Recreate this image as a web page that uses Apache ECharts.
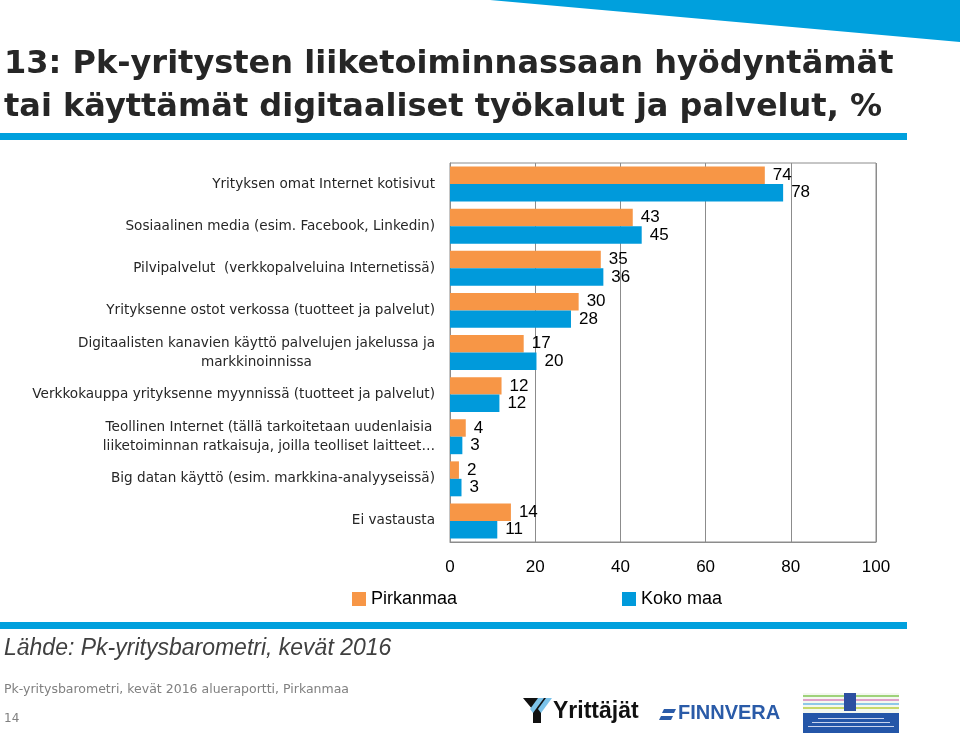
<!DOCTYPE html>
<html><head><meta charset="utf-8">
<script src="https://cdn.jsdelivr.net/npm/echarts@6/dist/echarts.min.js"></script>
<style>html,body{margin:0;padding:0;background:#fff}#c{width:960px;height:738px}</style>
</head><body><div id="c"></div>
<script>
const categories = [
  'Yrityksen omat Internet kotisivut',
  'Sosiaalinen media (esim. Facebook, Linkedin)',
  'Pilvipalvelut  (verkkopalveluina Internetissä)',
  'Yrityksenne ostot verkossa (tuotteet ja palvelut)',
  'Digitaalisten kanavien käyttö palvelujen jakelussa ja\nmarkkinoinnissa',
  'Verkkokauppa yrityksenne myynnissä (tuotteet ja palvelut)',
  'Teollinen Internet (tällä tarkoitetaan uudenlaisia\nliiketoiminnan ratkaisuja, joilla teolliset laitteet…',
  'Big datan käyttö (esim. markkina-analyyseissä)',
  'Ei vastausta'
];
const pirkanmaa = [73.9, 42.9, 35.4, 30.2, 17.3, 12.1, 3.7, 2.1, 14.3];
const kokoMaa   = [78.2, 45.0, 36.0, 28.4, 20.3, 11.6, 2.9, 2.7, 11.1];
const xTicks = [0, 20, 40, 60, 80, 100];
const seriesNames = ['Pirkanmaa', 'Koko maa'];

const ORANGE = '#F79646', BLUE = '#009ADB', HEAD = '#00A0DD';
const FONT = '"Liberation Sans", Arial, sans-serif';
const WIDE = '"DejaVu Sans", sans-serif';

const chart = echarts.init(document.getElementById('c'));
const lbl = {show: true, position: 'right', distance: 8, fontSize: 17, color: '#000', fontFamily: FONT,
  formatter: p => Math.round(p.value)};
const legendText = {fontSize: 18, color: '#000', fontFamily: FONT};
chart.setOption({
  animation: false,
  backgroundColor: '#fff',
  grid: {left: 450, right: 84, top: 163, bottom: 196, show: true, borderColor: '#8c8c8c', borderWidth: 1},
  legend: [
    {data: [seriesNames[0]], left: 352, top: 590, padding: 0, icon: 'rect', itemWidth: 14, itemHeight: 14, itemGap: 5, textStyle: legendText},
    {data: [seriesNames[1]], left: 622, top: 590, padding: 0, icon: 'rect', itemWidth: 14, itemHeight: 14, itemGap: 5, textStyle: legendText}
  ],
  xAxis: {
    type: 'value', min: xTicks[0], max: xTicks[xTicks.length - 1], interval: 20,
    axisLine: {show: true, lineStyle: {color: '#8c8c8c'}},
    axisTick: {show: false},
    splitLine: {show: true, lineStyle: {color: '#8c8c8c', width: 1}},
    axisLabel: {fontSize: 17, color: '#000', margin: 17, fontFamily: FONT}
  },
  yAxis: {
    type: 'category', data: categories, inverse: true,
    axisLine: {show: true, lineStyle: {color: '#8c8c8c'}},
    axisTick: {show: false},
    axisLabel: {
      margin: 15, fontSize: 13.6, color: '#262626', fontFamily: WIDE, lineHeight: 19,
      formatter: v => v.indexOf('\n') >= 0 ? v.split('\n').map(s => '{c|' + s + '}').join('\n') : v,
      rich: {c: {align: 'center', fontSize: 13.6, color: '#262626', fontFamily: WIDE, lineHeight: 19}}
    }
  },
  series: [
    {name: seriesNames[0], type: 'bar', data: pirkanmaa, itemStyle: {color: ORANGE},
     barGap: '0%', barCategoryGap: '17%', label: lbl},
    {name: seriesNames[1], type: 'bar', data: kokoMaa, itemStyle: {color: BLUE},
     barGap: '0%', barCategoryGap: '17%', label: lbl}
  ],
  title: {
    text: '13: Pk-yritysten liiketoiminnassaan hyödyntämät\ntai käyttämät digitaaliset työkalut ja palvelut, %',
    left: 4, top: 43, padding: 0,
    textStyle: {fontSize: 32, fontWeight: 'bold', color: '#262626', fontFamily: WIDE, lineHeight: 43}
  },
  graphic: [
    {type: 'polygon', shape: {points: [[490, 0], [960, 0], [960, 42]]}, style: {fill: HEAD}},
    {type: 'rect', shape: {x: 0, y: 133, width: 907, height: 7}, style: {fill: HEAD}},
    {type: 'rect', shape: {x: 0, y: 622, width: 907, height: 7}, style: {fill: HEAD}},
    {type: 'text', left: 4, top: 637, style: {text: 'Lähde: Pk-yritysbarometri, kevät 2016', fontSize: 23,
      fontStyle: 'italic', fill: '#404040', fontFamily: FONT}},
    {type: 'text', left: 4, top: 683, style: {text: 'Pk-yritysbarometri, kevät 2016 alueraportti, Pirkanmaa',
      fontSize: 12.5, fill: '#808080', fontFamily: WIDE}},
    {type: 'text', left: 4, top: 713, style: {text: '14', fontSize: 12, fill: '#808080', fontFamily: WIDE}},
    // Yrittäjät logo (approx)
    {type: 'polygon', shape: {points: [[523, 698], [550, 698], [541, 710], [541, 723], [533, 723], [533, 710]]}, style: {fill: '#111'}},
    {type: 'polygon', shape: {points: [[538, 698], [544, 698], [533, 713], [530, 709]]}, style: {fill: '#7cc3ea'}},
    {type: 'polygon', shape: {points: [[546, 698], [552, 698], [541, 713], [538, 709]]}, style: {fill: '#7cc3ea'}},
    {type: 'text', left: 553, top: 700, style: {text: 'Yrittäjät', fontSize: 23, fontWeight: 'bold', fill: '#111', fontFamily: FONT}},
    // Finnvera logo (approx)
    {type: 'polygon', shape: {points: [[664, 709], [676, 709], [674, 713], [662, 713]]}, style: {fill: '#2a5ba8'}},
    {type: 'polygon', shape: {points: [[661, 716], [673, 716], [671, 720], [659, 720]]}, style: {fill: '#2a5ba8'}},
    {type: 'text', left: 678, top: 703, style: {text: 'FINNVERA', fontSize: 20, fontWeight: 'bold', fill: '#2a5ba8', fontFamily: FONT}},
    // Ministry logo (approx)
    {type: 'rect', shape: {x: 803, y: 693, width: 96, height: 20}, style: {fill: '#f4f8f0'}},
    {type: 'rect', shape: {x: 803, y: 695, width: 96, height: 2}, style: {fill: '#9fd27a'}},
    {type: 'rect', shape: {x: 803, y: 699, width: 96, height: 2}, style: {fill: '#e0a0c8'}},
    {type: 'rect', shape: {x: 803, y: 703, width: 96, height: 2}, style: {fill: '#8fc8e8'}},
    {type: 'rect', shape: {x: 803, y: 707, width: 96, height: 2}, style: {fill: '#c8d86a'}},
    {type: 'rect', shape: {x: 844, y: 693, width: 12, height: 18}, style: {fill: '#2c4fa0'}},
    {type: 'rect', shape: {x: 803, y: 713, width: 96, height: 20}, style: {fill: '#2456a8'}},
    {type: 'rect', shape: {x: 818, y: 718, width: 66, height: 1}, style: {fill: '#c8d4ee'}},
    {type: 'rect', shape: {x: 812, y: 722, width: 78, height: 1}, style: {fill: '#c8d4ee'}},
    {type: 'rect', shape: {x: 808, y: 726, width: 86, height: 1}, style: {fill: '#c8d4ee'}}
  ]
});
</script></body></html>
